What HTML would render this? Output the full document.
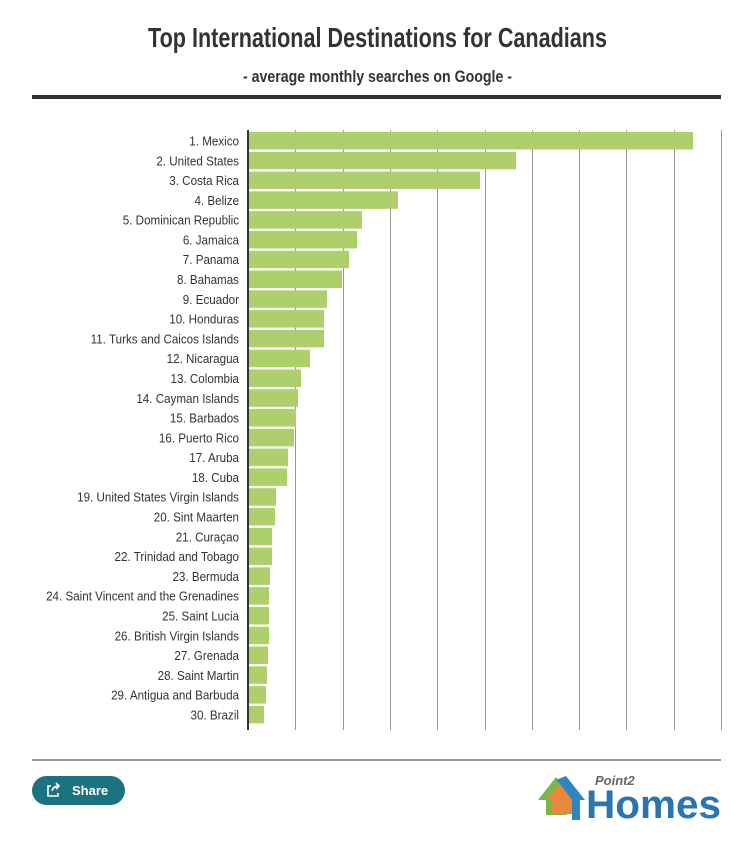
<!DOCTYPE html>
<html><head><meta charset="utf-8"><style>
html,body{margin:0;padding:0;background:#fff;width:745px;height:844px;overflow:hidden}
svg{display:block}
</style></head><body>
<svg width="745" height="844" viewBox="0 0 745 844" xmlns="http://www.w3.org/2000/svg" font-family="Liberation Sans, sans-serif">
<text x="148" y="47" font-size="28" font-weight="bold" fill="#333" textLength="459" lengthAdjust="spacingAndGlyphs">Top International Destinations for Canadians</text>
<text x="243" y="82" font-size="17" font-weight="bold" fill="#333" textLength="269" lengthAdjust="spacingAndGlyphs">- average monthly searches on Google -</text>
<rect x="32" y="95" width="689" height="4" fill="#333"/>
<g stroke="#999" stroke-width="1">
<line x1="295.5" y1="130" x2="295.5" y2="730"/><line x1="343.5" y1="130" x2="343.5" y2="730"/>
<line x1="390.5" y1="130" x2="390.5" y2="730"/><line x1="437.5" y1="130" x2="437.5" y2="730"/>
<line x1="485.5" y1="130" x2="485.5" y2="730"/><line x1="532.5" y1="130" x2="532.5" y2="730"/>
<line x1="579.5" y1="130" x2="579.5" y2="730"/><line x1="626.5" y1="130" x2="626.5" y2="730"/>
<line x1="674.5" y1="130" x2="674.5" y2="730"/><line x1="721.5" y1="130" x2="721.5" y2="730"/>
</g>
<g fill="#aed06c" id="bars"></g>
<rect x="247" y="130" width="2" height="600" fill="#333"/>
<g id="labels" font-size="12.5" fill="#333" text-anchor="end"></g>
<rect x="32" y="759.5" width="689" height="1" fill="#333"/>
<rect x="32" y="776" width="93" height="29" rx="14.5" fill="#1b7381"/>
<g stroke="#fff" stroke-width="1.6" fill="none"><path d="M51 786 h-3 v10 h10 v-3"/><path d="M52 791 q1-5 7-5 M56 783 l3 3 -3 3"/></g>
<text x="72" y="795" font-size="13" font-weight="bold" fill="#fff">Share</text>
<polygon points="538,800 556,777 574,800 567,800 567,815 546,815 546,800" fill="#7ab648"/>
<polygon points="546,800 562,781 578,800 572,800 572,814 552,814 552,800" fill="#e8883a"/>
<polygon points="556,780 566,776 585,800 580,800 580,820 572,820 572,800 560,784" fill="#2e86c1"/>
<text x="595" y="785" font-size="13" font-weight="bold" font-style="italic" fill="#666">Point2</text>
<text x="586" y="818" font-size="40" font-weight="bold" fill="#2a75ad" textLength="135" lengthAdjust="spacingAndGlyphs">Homes</text>
<script>
var d=[["1. Mexico",693],["2. United States",516],["3. Costa Rica",480],["4. Belize",398],["5. Dominican Republic",362],["6. Jamaica",357],["7. Panama",349],["8. Bahamas",342],["9. Ecuador",327],["10. Honduras",324],["11. Turks and Caicos Islands",324],["12. Nicaragua",310],["13. Colombia",301],["14. Cayman Islands",298],["15. Barbados",296],["16. Puerto Rico",294],["17. Aruba",288],["18. Cuba",287],["19. United States Virgin Islands",276],["20. Sint Maarten",275],["21. Curaçao",272],["22. Trinidad and Tobago",272],["23. Bermuda",270],["24. Saint Vincent and the Grenadines",269],["25. Saint Lucia",269],["26. British Virgin Islands",269],["27. Grenada",268],["28. Saint Martin",267],["29. Antigua and Barbuda",266],["30. Brazil",264]];
var ns="http://www.w3.org/2000/svg",b=document.getElementById("bars"),l=document.getElementById("labels");
d.forEach(function(r,i){var c=141+i*19.79;
var e=document.createElementNS(ns,"rect");e.setAttribute("x",249);e.setAttribute("y",c-9);e.setAttribute("width",r[1]-249);e.setAttribute("height",17.5);b.appendChild(e);
var t=document.createElementNS(ns,"text");t.setAttribute("transform","translate(239,"+(c+4.5)+") scale(0.93,1)");t.textContent=r[0];l.appendChild(t);});
</script>
</svg>
</body></html>
